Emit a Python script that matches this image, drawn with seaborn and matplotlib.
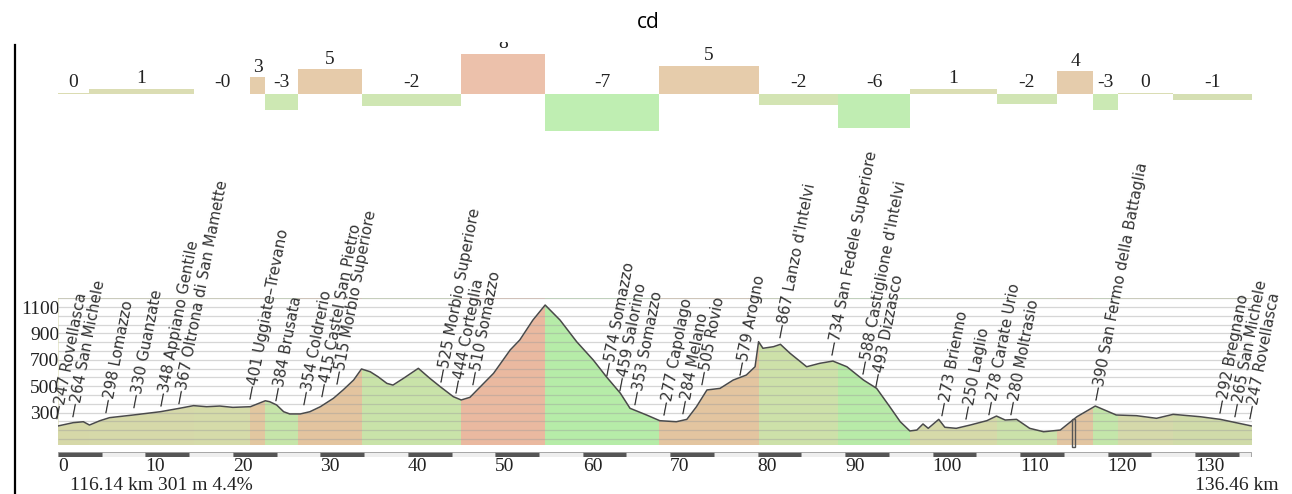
import numpy as np
import pandas as pd
import matplotlib
matplotlib.use("Agg")
import matplotlib.pyplot as plt
import seaborn as sns
from matplotlib.patches import Rectangle
from matplotlib.transforms import Bbox

# ---------------- data ----------------
total_km = 136.46

profile_km = [0.0, 1.75, 2.9, 3.6, 4.8, 5.9, 8.6, 11.7, 13.9, 15.5, 17.0, 18.5, 20.0, 22.0,
              23.7, 24.2, 25.0, 25.8, 26.5, 27.7, 28.8, 30.0, 31.5, 32.6, 33.8, 34.7, 35.7,
              36.6, 37.6, 38.3, 39.5, 41.2, 42.5, 43.7, 45.2, 46.1, 47.1, 48.3, 49.8, 51.7,
              52.8, 54.3, 55.7, 57.4, 59.3, 61.2, 62.7, 64.3, 65.4, 67.3, 68.8, 70.7, 71.9,
              73.0, 74.2, 75.7, 77.2, 78.7, 79.7, 80.1, 80.6, 81.8, 82.6, 83.7, 85.6, 87.1,
              88.6, 90.2, 92.1, 93.6, 95.1, 96.3, 97.4, 98.2, 98.9, 99.5, 100.7, 101.4, 102.7,
              104.3, 106.2, 107.3, 108.3, 109.6, 111.1, 112.7, 114.6, 116.5, 118.6, 121.0,
              123.3, 125.6, 127.5, 130.6, 132.9, 136.46]
profile_elev = [198, 223, 230, 205, 238, 261, 281, 306, 332, 352, 344, 349, 339, 344,
                389, 382, 357, 306, 289, 289, 306, 344, 408, 471, 546, 630, 609,
                571, 521, 508, 559, 635, 560, 496, 420, 395, 415, 496, 597, 774,
                850, 1001, 1115, 1001, 837, 698, 571, 446, 332, 281, 238, 230, 248,
                344, 471, 483, 546, 584, 647, 837, 787, 799, 817, 749, 647, 673,
                690, 647, 546, 483, 344, 230, 160, 167, 213, 180, 248, 188, 180,
                205, 238, 273, 243, 248, 180, 154, 167, 268, 349, 281,
                276, 256, 286, 268, 248, 198]

seg_start_km = [0.0, 3.54, 15.55, 21.95, 23.67, 27.44, 34.76, 46.08, 55.68, 68.72, 80.15,
                89.18, 97.42, 107.36, 114.22, 118.34, 121.2, 127.49]
seg_grade = [0.2, 1.05, -0.1, 3.3, -3.3, 4.9, -2.5, 8.0, -7.4, 5.6, -2.2, -6.9, 1.05, -2.1,
             4.5, -3.3, 0.2, -1.2]
seg_labels = ['0', '1', '-0', '3', '-3', '5', '-2', '8', '-7', '5', '-2', '-6', '1', '-2',
              '4', '-3', '0', '-1']
seg_colors = ['#d6d8a8', '#d6d9a9', '#d5dba9', '#e2c7a0', '#c6e5a9', '#e3c49f', '#c9e3a9',
              '#eab9a0', '#b6eca8', '#e3c5a0', '#cde1a9', '#b8eba8', '#d6daa9', '#cbe2aa',
              '#e2c5a1', '#c4e6aa', '#d5d9aa', '#d0dba9']

place_km = [0.0, 1.8, 5.5, 8.8, 11.9, 13.9, 22.0, 25.0, 28.2, 30.2, 32.0, 43.9, 45.6, 47.5,
            62.8, 64.3, 66.0, 69.4, 71.5, 73.7, 78.0, 82.6, 88.6, 92.1, 93.6, 101.1, 103.9,
            106.5, 109.0, 118.7, 132.9, 134.6, 136.3]
place_elev = [247, 264, 298, 330, 348, 367, 401, 384, 354, 415, 515, 525, 444, 510,
              574, 459, 353, 277, 284, 505, 579, 867, 734, 588, 493, 273, 250,
              278, 280, 390, 292, 265, 247]
place_names = ['Rovellasca', 'San Michele', 'Lomazzo', 'Guanzate', 'Appiano Gentile',
               'Oltrona di San Mamette', 'Uggiate–Trevano', 'Brusata', 'Coldrerio',
               'Castel San Pietro', 'Morbio Superiore', 'Morbio Superiore', 'Corteglia',
               'Somazzo', 'Somazzo', 'Salorino', 'Somazzo', 'Capolago', 'Melano', 'Rovio',
               'Arogno', "Lanzo d'Intelvi", 'San Fedele Superiore', "Castiglione d'Intelvi",
               'Dizzasco', 'Brienno', 'Laglio', 'Carate Urio', 'Moltrasio',
               'San Fermo della Battaglia', 'Bregnano', 'San Michele', 'Rovellasca']

y_ticks = [300, 500, 700, 900, 1100]
x_ticks = [0, 10, 20, 30, 40, 50, 60, 70, 80, 90, 100, 110, 120, 130]

cursor_km = 116.14
cursor_text = '116.14 km 301 m 4.4%'
total_text = '136.46 km'
title_text = 'cd'

# ---------------- layout ----------------
sns.set_theme(style='white')
plt.rcParams['font.family'] = ['DejaVu Sans']
SERIF = 'Liberation Serif'

W, H = 1292, 494
fig = plt.figure(figsize=(W / 100, H / 100), dpi=100)
fig.patch.set_facecolor('white')


def box(x0, y0, x1, y1):
    return [x0 / W, 1 - y1 / H, (x1 - x0) / W, (y1 - y0) / H]


X0, X1 = 58, 1251.5
Y_LO, Y_HI = 53.6, 1168.3

outer = fig.add_axes(box(15, 45, W, H + 5))
outer.set_facecolor('none')
for s in ['top', 'right', 'bottom']:
    outer.spines[s].set_visible(False)
outer.spines['left'].set_color('black')
outer.spines['left'].set_linewidth(1.6)
outer.set_xticks([])
outer.set_yticks([])
outer.set_zorder(0)

# ---- top gradient bars ----
bar_ax = fig.add_axes(box(X0, 45, X1, 140))
bar_ax.set_facecolor('none')
seg_end_km = seg_start_km[1:] + [total_km]
seg_width = [e - s for s, e in zip(seg_start_km, seg_end_km)]
bar_ax.bar(seg_start_km, seg_grade, width=seg_width, align='edge', color=seg_colors,
           edgecolor='none', linewidth=0, alpha=0.88)
bar_ax.set_xlim(0, total_km)
bar_ax.set_ylim(-9.2, 9.8)
bar_ax.axis('off')
clip_bb = Bbox.from_extents(0, 0, W, H - 42)
for s, w, g, lab in zip(seg_start_km, seg_width, seg_grade, seg_labels):
    off = 4.2 if g > 0 else 5.0
    t = bar_ax.annotate(lab, (s + w / 2, max(g, 0)), xytext=(0, off),
                        textcoords='offset points', ha='center', va='baseline',
                        fontsize=14, family=SERIF, color='#222222')
    t.set_clip_on(True)
    t.set_clip_box(clip_bb)

# ---- elevation profile ----
ax = fig.add_axes(box(X0, 298, X1, 445))
ax.set_facecolor('none')
ax.set_xlim(0, total_km)
ax.set_ylim(Y_LO, Y_HI)
for s, e, c in zip(seg_start_km, seg_end_km, seg_colors):
    ax.axvspan(s, e, color=c, lw=0, zorder=0)
ax.fill_between(profile_km, profile_elev, Y_HI, color='white', lw=0, zorder=1)
grid_levels = 300 + (200 / 3) * np.arange(-3, 14)
ax.hlines(grid_levels, 0, total_km, color='#9a9a9a', alpha=0.4, lw=0.9, zorder=2)
df = pd.DataFrame({'km': profile_km, 'elev': profile_elev})
sns.lineplot(data=df, x='km', y='elev', ax=ax, color='#4a4a4a', linewidth=1.1,
             estimator=None, zorder=4)
ax.set_xlabel('')
ax.set_ylabel('')
for sp in ax.spines.values():
    sp.set_visible(False)
ax.set_xticks([])
ax.set_yticks(y_ticks)
ax.set_yticklabels([str(v) for v in y_ticks], family=SERIF, fontsize=14, color='#222222')
ax.tick_params(axis='y', length=0, pad=-1)

for km, el, nm in zip(place_km, place_elev, place_names):
    ax.text(km, el, f'—{el} {nm}', rotation=79, rotation_mode='anchor',
            ha='left', va='center', fontsize=10.8, color='#333333', zorder=5,
            clip_on=False)

top_c = float(np.interp(cursor_km, profile_km, profile_elev))
ax.add_patch(Rectangle((cursor_km - 0.15, 38), 0.3, top_c - 38, fill=False,
                       edgecolor='#555555', lw=1.0, zorder=5, clip_on=False))

# ---- distance strip ----
strip = fig.add_axes(box(X0, 451.5, X1, 456.5))
strip.set_facecolor('none')
for i, st in enumerate(np.arange(0, total_km, 5)):
    w = min(5, total_km - st)
    strip.barh(0.5, w, left=st, height=1, color='#555555' if i % 2 == 0 else '#eeeeee',
               edgecolor='#999999', lw=0.6)
strip.set_xlim(0, total_km)
strip.set_ylim(0, 1)
for sp in strip.spines.values():
    sp.set_visible(False)
strip.set_yticks([])
strip.set_xticks(x_ticks)
strip.set_xticklabels([str(v) for v in x_ticks], family=SERIF, fontsize=14,
                      color='#222222', ha='left')
strip.tick_params(axis='x', length=0, pad=1)

fig.text(70 / W, 1 - 485 / H, cursor_text, family=SERIF, fontsize=14, color='#222222',
         ha='left', va='center')
fig.text((X0 + 130 * (X1 - X0) / total_km) / W, 1 - 485 / H, total_text, family=SERIF,
         fontsize=14, color='#222222', ha='left', va='center')
fig.text(648 / W, 1 - 22 / H, title_text, ha='center', va='center', fontsize=15,
         family='Open Sans', color='black')

fig.savefig('out.png', dpi=100, facecolor='white')
